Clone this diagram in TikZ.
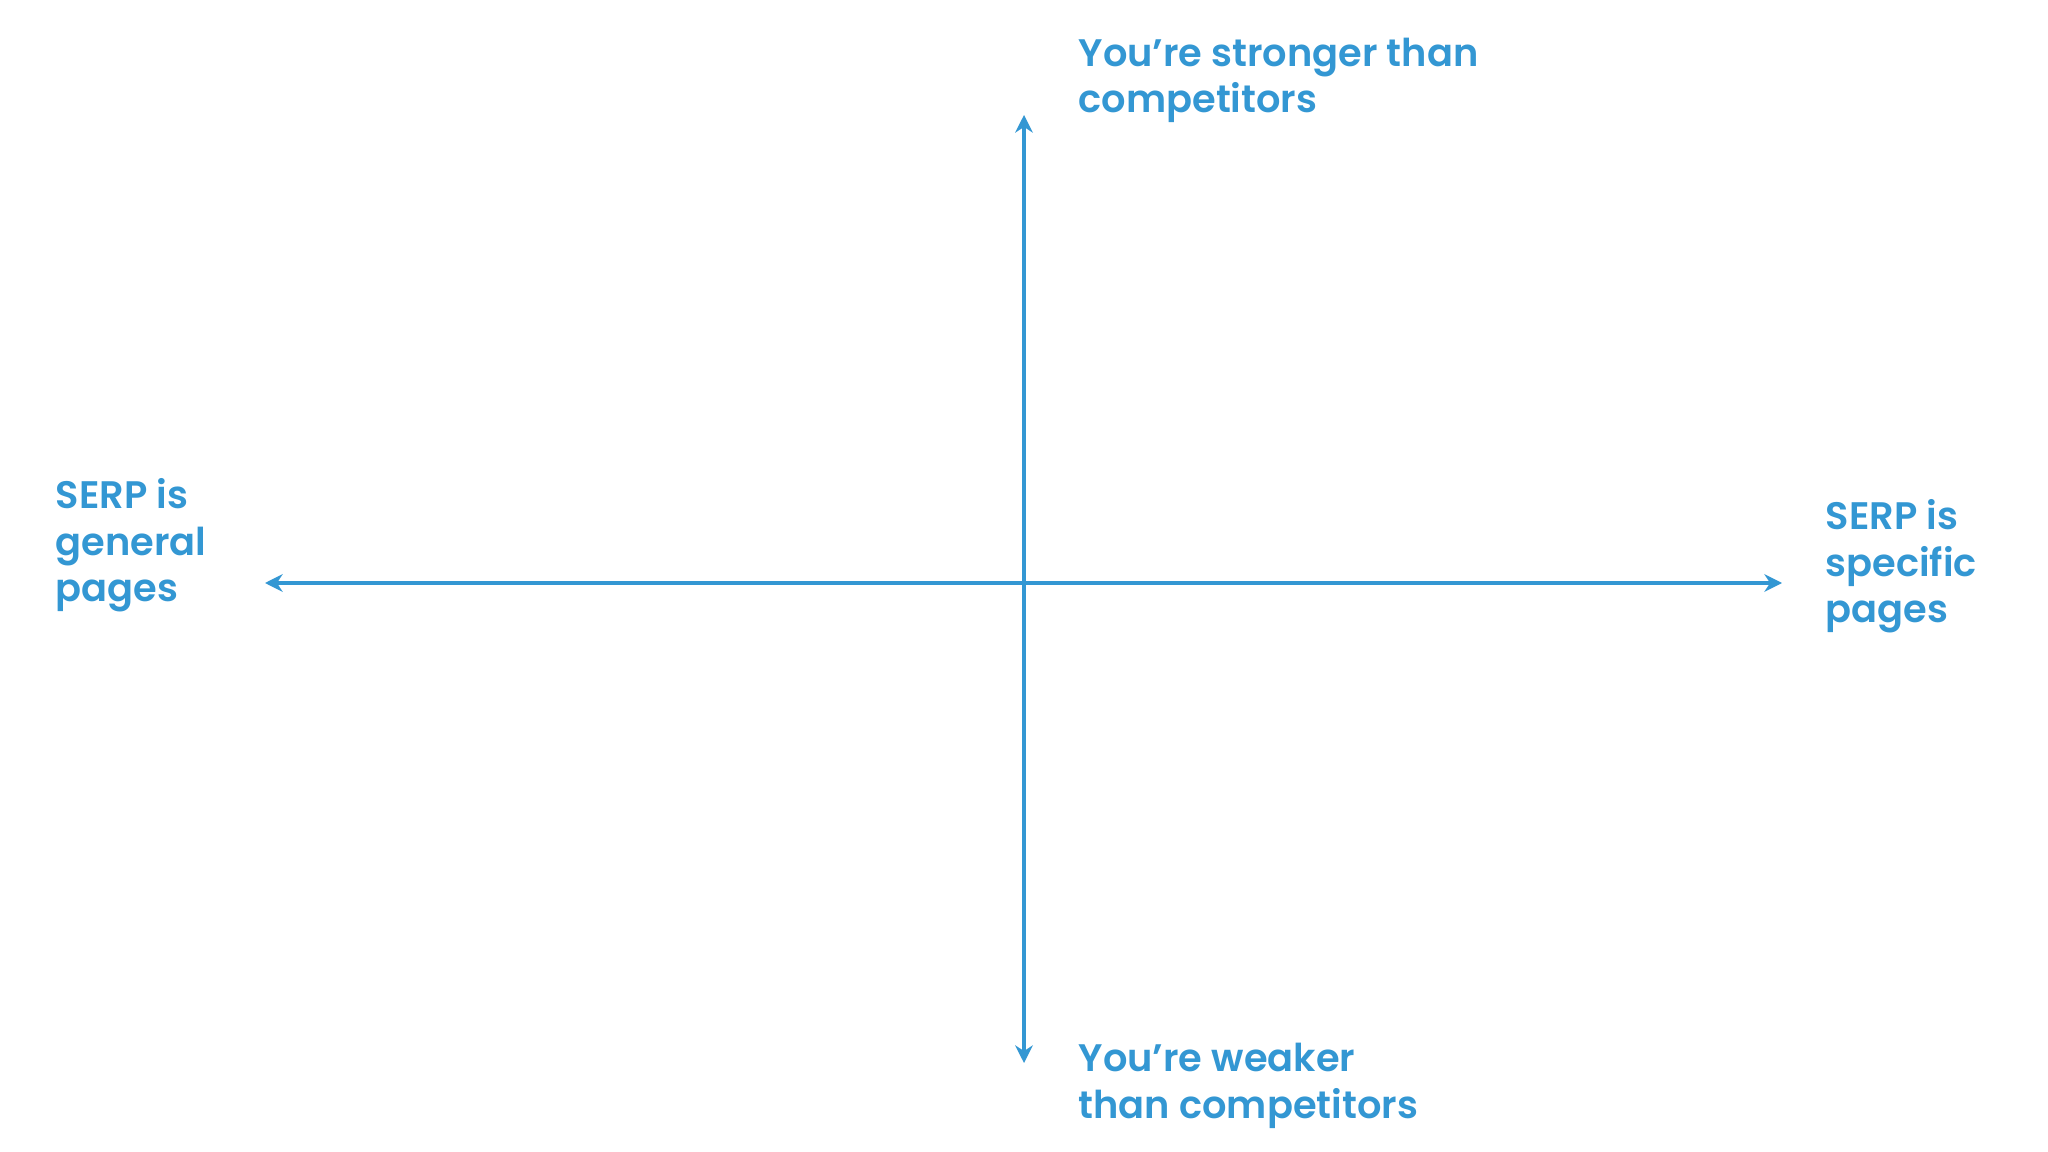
\documentclass[tikz,border=0pt]{standalone}
\usepackage{fontspec}
\setmainfont{Poppins}[BoldFont={Poppins SemiBold}]
\usetikzlibrary{arrows.meta}
\definecolor{axisblue}{HTML}{3397D3}

\begin{document}
\begin{tikzpicture}[x=0.01cm, y=-0.01cm,
  axis/.style={draw=axisblue, line width=1.1pt,
               {Stealth[length=5pt,width=5pt,inset=1.6pt]}-{Stealth[length=5pt,width=5pt,inset=1.6pt]}},
  lbl/.style={font=\fontsize{10.9pt}{13.3pt}\selectfont\bfseries, text=axisblue,
              align=left, inner sep=0pt, anchor=base west}
]
% Frame
\fill[white] (0,0) rectangle (2048,1152);
\useasboundingbox (0,0) rectangle (2048,1152);
% Axes
\coordinate (top) at (1024,115);
\coordinate (bottom) at (1024,1063);
\coordinate (left) at (265,583);
\coordinate (right) at (1782,583);
\draw[axis] (bottom) -- (top);
\draw[axis] (left) -- (right);
% Labels (anchored on the last line)
\node[lbl] (strong) at (1078,113) {You’re stronger than\\competitors};
\node[lbl] (weak) at (1078,1118) {You’re weaker\\than competitors};
\node[lbl] (general) at (55,602) {SERP is\\general\\pages};
\node[lbl] (specific) at (1825,623) {SERP is\\specific\\pages};
\end{tikzpicture}
\end{document}
